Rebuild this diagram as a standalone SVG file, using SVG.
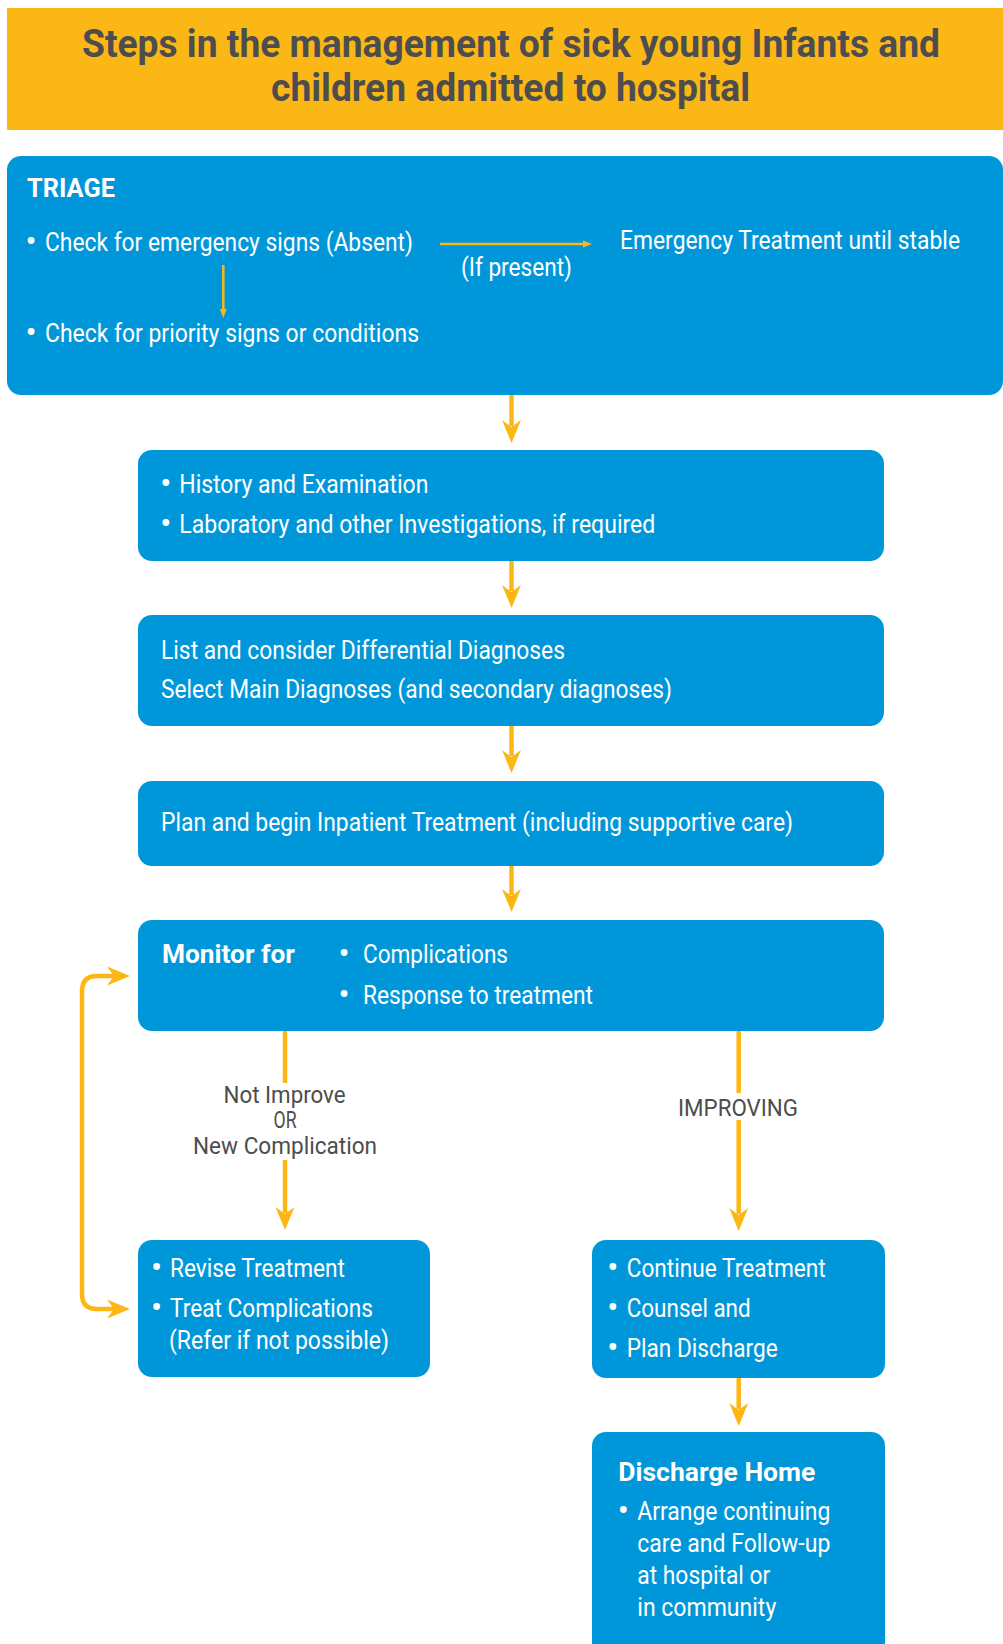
<svg xmlns="http://www.w3.org/2000/svg" xmlns:xlink="http://www.w3.org/1999/xlink" width="1003" height="1644" viewBox="0 0 1003 1644">
  <style>
    .box { fill: #0097DA; }
    .t { font-family: Roboto, "Liberation Sans", sans-serif; fill: #FFFFFF; font-size: 25px; }
    .b { font-weight: bold; }
    .dot { font-family: Roboto, "Liberation Sans", sans-serif; fill: #FFFFFF; font-size: 33px; text-anchor: middle; }
    .lbl { font-family: Roboto, "Liberation Sans", sans-serif; fill: #4D4D4D; font-size: 24px; }
    .title { font-family: Roboto, "Liberation Sans", sans-serif; fill: #4D4D4F; font-size: 39px; font-weight: bold; }
    .ln { stroke: #FDB714; stroke-width: 4.5; fill: none; }
    .thin { stroke: #FDB714; stroke-width: 2.5; fill: none; }
    .head { fill: #FDB714; }
  </style>
  <defs>
    <!-- notched arrowhead, tip at origin, pointing down -->
    <path id="ah" d="M0,0 L-9.5,-23 L0,-16 L9.5,-23 Z"/>
    <!-- small arrowhead for the triage box -->
    <path id="ahs" d="M0,0 L-3.5,-9 L3.5,-9 Z"/>
  </defs>

  <!-- header band -->
  <g id="header">
    <rect x="7" y="8" width="996" height="122" fill="#FBB716"/>
    <text class="title" x="82" y="57" textLength="858" lengthAdjust="spacingAndGlyphs">Steps in the management of sick young Infants and</text>
    <text class="title" x="271" y="101" textLength="479" lengthAdjust="spacingAndGlyphs">children admitted to hospital</text>
  </g>

  <!-- triage -->
  <g id="triage">
    <rect class="box" x="7" y="156" width="996" height="239" rx="14"/>
    <text class="t b" x="27" y="197" font-size="26" textLength="88" lengthAdjust="spacingAndGlyphs">TRIAGE</text>
    <text class="dot" x="31" y="253">•</text>
    <text class="t" x="45" y="251" font-size="26" textLength="368" lengthAdjust="spacingAndGlyphs">Check for emergency signs (Absent)</text>
    <text class="dot" x="31" y="344">•</text>
    <text class="t" x="45" y="342" font-size="26" textLength="374" lengthAdjust="spacingAndGlyphs">Check for priority signs or conditions</text>
    <text class="t" x="461" y="276" font-size="26" textLength="111" lengthAdjust="spacingAndGlyphs">(If present)</text>
    <text class="t" x="620" y="249" font-size="26" textLength="340" lengthAdjust="spacingAndGlyphs">Emergency Treatment until stable</text>
    <path class="thin" d="M223.3,265 V310"/>
    <use xlink:href="#ahs" class="head" transform="translate(223.3,318)"/>
    <path class="thin" d="M440,244 H584"/>
    <use xlink:href="#ahs" class="head" transform="translate(592,244) rotate(-90)"/>
  </g>

  <g id="assess">
    <rect class="box" x="138" y="450" width="746" height="111" rx="14"/>
    <text class="dot" x="165.7" y="495">•</text>
    <text class="t" x="179.3" y="493" textLength="249" lengthAdjust="spacingAndGlyphs">History and Examination</text>
    <text class="dot" x="165.7" y="535">•</text>
    <text class="t" x="179.3" y="533" textLength="476" lengthAdjust="spacingAndGlyphs">Laboratory and other Investigations, if required</text>
  </g>

  <g id="diagnose">
    <rect class="box" x="138" y="615" width="746" height="111" rx="14"/>
    <text class="t" x="161" y="659" textLength="404" lengthAdjust="spacingAndGlyphs">List and consider Differential Diagnoses</text>
    <text class="t" x="161" y="698" textLength="511" lengthAdjust="spacingAndGlyphs">Select Main Diagnoses (and secondary diagnoses)</text>
  </g>

  <g id="treat">
    <rect class="box" x="138" y="781" width="746" height="85" rx="14"/>
    <text class="t" x="161" y="831" textLength="632" lengthAdjust="spacingAndGlyphs">Plan and begin Inpatient Treatment (including supportive care)</text>
  </g>

  <g id="monitor">
    <rect class="box" x="138" y="920" width="746" height="111" rx="14"/>
    <text class="t b" x="162" y="963" textLength="133" lengthAdjust="spacingAndGlyphs">Monitor for</text>
    <text class="dot" x="344" y="965">•</text>
    <text class="t" x="363" y="963" textLength="145" lengthAdjust="spacingAndGlyphs">Complications</text>
    <text class="dot" x="344" y="1006">•</text>
    <text class="t" x="363" y="1004" textLength="230" lengthAdjust="spacingAndGlyphs">Response to treatment</text>
  </g>

  <g id="revise">
    <rect class="box" x="138" y="1240" width="292" height="137" rx="14"/>
    <text class="dot" x="156.6" y="1279">•</text>
    <text class="t" x="170" y="1277" textLength="175" lengthAdjust="spacingAndGlyphs">Revise Treatment</text>
    <text class="dot" x="156.6" y="1319">•</text>
    <text class="t" x="170" y="1317" textLength="203" lengthAdjust="spacingAndGlyphs">Treat Complications</text>
    <text class="t" x="169" y="1349" textLength="220" lengthAdjust="spacingAndGlyphs">(Refer if not possible)</text>
  </g>

  <g id="continue">
    <rect class="box" x="592" y="1240" width="293" height="138" rx="14"/>
    <text class="dot" x="612.7" y="1279">•</text>
    <text class="t" x="626.7" y="1277" textLength="199" lengthAdjust="spacingAndGlyphs">Continue Treatment</text>
    <text class="dot" x="612.7" y="1319">•</text>
    <text class="t" x="626.7" y="1317" textLength="124" lengthAdjust="spacingAndGlyphs">Counsel and</text>
    <text class="dot" x="612.7" y="1359">•</text>
    <text class="t" x="626.7" y="1357" textLength="151" lengthAdjust="spacingAndGlyphs">Plan Discharge</text>
  </g>

  <g id="discharge">
    <rect class="box" x="592" y="1432" width="293" height="240" rx="14"/>
    <text class="t b" x="618.3" y="1481" font-size="26" textLength="197" lengthAdjust="spacingAndGlyphs">Discharge Home</text>
    <text class="dot" x="623.3" y="1522" font-size="31">•</text>
    <text class="t" x="637.3" y="1520" font-size="24" textLength="193" lengthAdjust="spacingAndGlyphs">Arrange continuing</text>
    <text class="t" x="637.3" y="1552" font-size="24" textLength="193" lengthAdjust="spacingAndGlyphs">care and Follow-up</text>
    <text class="t" x="637.3" y="1584" font-size="24" textLength="133" lengthAdjust="spacingAndGlyphs">at hospital or</text>
    <text class="t" x="637.3" y="1616" font-size="24" textLength="139" lengthAdjust="spacingAndGlyphs">in community</text>
  </g>

  <!-- connectors between steps -->
  <g id="connectors">
    <path class="ln" d="M511.5,395 V426"/>
    <use xlink:href="#ah" class="head" transform="translate(511.5,443)"/>
    <path class="ln" d="M511.5,561 V591"/>
    <use xlink:href="#ah" class="head" transform="translate(511.5,608)"/>
    <path class="ln" d="M511.5,726 V756"/>
    <use xlink:href="#ah" class="head" transform="translate(511.5,773)"/>
    <path class="ln" d="M511.5,866 V895"/>
    <use xlink:href="#ah" class="head" transform="translate(511.5,912)"/>

    <!-- not improving branch -->
    <path class="ln" d="M285,1031 V1083"/>
    <path class="ln" d="M285,1160 V1213"/>
    <use xlink:href="#ah" class="head" transform="translate(285,1230)"/>
    <text class="lbl" x="223.6" y="1103" textLength="122" lengthAdjust="spacingAndGlyphs">Not Improve</text>
    <text class="lbl" x="273.6" y="1128" font-size="18" textLength="23" lengthAdjust="spacingAndGlyphs">OR</text>
    <text class="lbl" x="193" y="1154" textLength="184" lengthAdjust="spacingAndGlyphs">New Complication</text>

    <!-- improving branch -->
    <path class="ln" d="M738.7,1031 V1093"/>
    <path class="ln" d="M738.7,1120 V1214"/>
    <use xlink:href="#ah" class="head" transform="translate(738.7,1231)"/>
    <text class="lbl" x="678" y="1116" font-size="25" textLength="120" lengthAdjust="spacingAndGlyphs">IMPROVING</text>

    <path class="ln" d="M738.7,1378 V1409"/>
    <use xlink:href="#ah" class="head" transform="translate(738.7,1426)"/>

    <!-- feedback loop between revise and monitor -->
    <path class="ln" d="M114,976 H97 Q82,976 82,991 V1294 Q82,1309 97,1309 H114"/>
    <use xlink:href="#ah" class="head" transform="translate(130,976) rotate(-90)"/>
    <use xlink:href="#ah" class="head" transform="translate(130,1309) rotate(-90)"/>
  </g>
</svg>
